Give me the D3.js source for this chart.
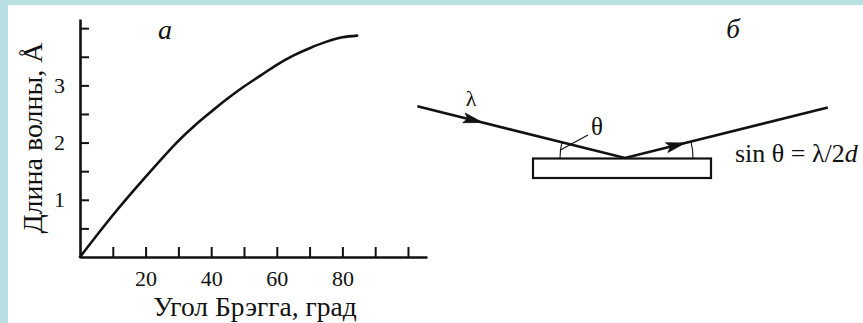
<!DOCTYPE html>
<html>
<head>
<meta charset="utf-8">
<script src="https://cdn.jsdelivr.net/npm/d3@7"></script>
<style>
  html, body { margin: 0; padding: 0; background: #fff; }
  svg { display: block; }
</style>
</head>
<body>
<svg id="fig" width="863" height="323"></svg>
<script>
// Bragg angle (degrees) against wavelength (Å)
const braggAngleDeg = [0, 10, 20, 30, 35, 40, 45, 50, 55, 60, 65, 70, 75, 80, 84.5];
const wavelengthA   = [0, 0.73, 1.40, 2.03, 2.30, 2.54, 2.77, 2.98, 3.17, 3.36, 3.52, 3.65, 3.76, 3.84, 3.87];

// axis ticks and labels
const xTickValues = [10, 20, 30, 40, 50, 60, 70, 80, 90, 100];
const xTickLabels = { 20: "20", 40: "40", 60: "60", 80: "80" };
const yTickValues = [0.5, 1, 1.5, 2, 2.5, 3, 3.5, 4];
const yTickLabels = { 1: "1", 2: "2", 3: "3" };

const xTitle = "Угол Брэгга, град";
const yTitle = "Длина волны, Å";
const panelA = "а";
const panelB = "б";

// reflection schematic: glancing angle drawn in the sketch
const sketchAngleDeg = 14;
const formulaParts = [
  { t: "sin θ = λ/2", italic: false },
  { t: "d", italic: true }
];

const SERIF = "'Liberation Serif', 'Times New Roman', serif";
const ink = "#111";
const svg = d3.select("#fig");

// page frame
svg.append("rect").attr("x", 0).attr("y", 0).attr("width", 863).attr("height", 5).attr("fill", "#b8dfe2");
svg.append("rect").attr("x", 0).attr("y", 0).attr("width", 8).attr("height", 323).attr("fill", "#b8dfe2");

function label(sel, size, italic) {
  return sel.style("font-family", SERIF)
    .style("font-size", size + "px")
    .style("font-style", italic ? "italic" : "normal")
    .style("fill", ink);
}

// ---------- panel а: wavelength vs Bragg angle ----------
const x = d3.scaleLinear().domain([0, 105.8]).range([80, 427]);
const y = d3.scaleLinear().domain([0, 4.16]).range([257, 19]);

const xAxis = d3.axisBottom(x)
  .tickValues(xTickValues)
  .tickSizeInner(-10).tickSizeOuter(0)
  .tickPadding(13)
  .tickFormat(d => xTickLabels[d] || "");

const gx = svg.append("g").attr("transform", `translate(0,${y(0)})`).call(xAxis);
gx.attr("font-family", null);
gx.select(".domain").attr("stroke", ink).attr("stroke-width", 2.6);
gx.selectAll(".tick line").attr("stroke", ink).attr("stroke-width", 2);
label(gx.selectAll(".tick text"), 22, false);

const yAxis = d3.axisLeft(y)
  .tickValues(yTickValues)
  .tickSizeInner(-9).tickSizeOuter(0)
  .tickPadding(15)
  .tickFormat(d => yTickLabels[d] || "");

const gy = svg.append("g").attr("transform", `translate(${x(0)},0)`).call(yAxis);
gy.attr("font-family", null);
gy.select(".domain").attr("stroke", ink).attr("stroke-width", 2.6);
gy.selectAll(".tick line").attr("stroke", ink).attr("stroke-width", 2);
label(gy.selectAll(".tick text"), 22, false);

const pts = braggAngleDeg.map((a, i) => [a, wavelengthA[i]]);
svg.append("path")
  .datum(pts)
  .attr("fill", "none")
  .attr("stroke", ink)
  .attr("stroke-width", 2.6)
  .attr("stroke-linecap", "round")
  .attr("d", d3.line().x(d => x(d[0])).y(d => y(d[1])).curve(d3.curveCatmullRom.alpha(0.5)));

label(svg.append("text"), 27.5, false)
  .attr("x", 255).attr("y", 316)
  .attr("text-anchor", "middle")
  .text(xTitle);

label(svg.append("text"), 28, false)
  .attr("transform", "translate(42,138) rotate(-90)")
  .attr("text-anchor", "middle")
  .text(yTitle);

label(svg.append("text"), 28, true)
  .attr("x", 165).attr("y", 39)
  .attr("text-anchor", "middle")
  .text(panelA);

// ---------- panel б: reflection from a crystal ----------
const rad = sketchAngleDeg * Math.PI / 180;
const P = [625, 158];               // point of reflection on the plate surface
const inLen = 214, outLen = 209;
const inStart = [P[0] - inLen * Math.cos(rad), P[1] - inLen * Math.sin(rad)];
const outEnd  = [P[0] + outLen * Math.cos(rad), P[1] - outLen * Math.sin(rad)];

// crystal plate
svg.append("rect")
  .attr("x", 533).attr("y", 158.5)
  .attr("width", 178).attr("height", 19.5)
  .attr("fill", "#fff").attr("stroke", ink).attr("stroke-width", 2.2);

// rays
svg.append("path")
  .attr("d", d3.line()([inStart, P, outEnd]))
  .attr("fill", "none").attr("stroke", ink).attr("stroke-width", 2.6)
  .attr("stroke-linejoin", "miter");

// arrowheads along the rays
function arrowHead(from, dir, dist) {
  const ux = Math.cos(dir), uy = Math.sin(dir);
  const tip = [from[0] + ux * dist, from[1] + uy * dist];
  const L = 19, W = 5;
  const base = [tip[0] - ux * L, tip[1] - uy * L];
  const notch = [tip[0] - ux * (L - 4), tip[1] - uy * (L - 4)];
  const nx = -uy, ny = ux;
  svg.append("path")
    .attr("d", d3.line()([tip, [base[0] + nx * W, base[1] + ny * W], notch, [base[0] - nx * W, base[1] - ny * W]]) + "Z")
    .attr("fill", ink).attr("stroke", ink).attr("stroke-width", 0.8);
}
arrowHead(inStart, rad, 67);
arrowHead(P, -rad, 62);

// angle arcs
const arcL = d3.arc().innerRadius(65).outerRadius(65)
  .startAngle(-Math.PI / 2).endAngle(-Math.PI / 2 + rad);
svg.append("path").attr("transform", `translate(${P[0]},${P[1]})`)
  .attr("d", arcL()).attr("fill", "none").attr("stroke", ink).attr("stroke-width", 1.1);
const arcR = d3.arc().innerRadius(68).outerRadius(68)
  .startAngle(Math.PI / 2 - rad).endAngle(Math.PI / 2);
svg.append("path").attr("transform", `translate(${P[0]},${P[1]})`)
  .attr("d", arcR()).attr("fill", "none").attr("stroke", ink).attr("stroke-width", 1.1);

// leader from the left arc to the θ label
const leadA = P[0] - 65 * Math.cos(rad / 2), leadB = P[1] - 65 * Math.sin(rad / 2);
svg.append("line")
  .attr("x1", leadA).attr("y1", leadB)
  .attr("x2", 588).attr("y2", 135)
  .attr("stroke", ink).attr("stroke-width", 1.1);

label(svg.append("text"), 25, false)
  .attr("x", 597).attr("y", 135)
  .attr("text-anchor", "middle")
  .text("θ");

label(svg.append("text"), 22, false)
  .attr("x", 471).attr("y", 106)
  .attr("text-anchor", "middle")
  .text("λ");

const ft = label(svg.append("text"), 26, false)
  .attr("x", 735).attr("y", 162);
formulaParts.forEach(p => {
  ft.append("tspan").style("font-style", p.italic ? "italic" : "normal").text(p.t);
});

label(svg.append("text"), 27, true)
  .attr("x", 733).attr("y", 38)
  .attr("text-anchor", "middle")
  .text(panelB);
</script>
</body>
</html>
